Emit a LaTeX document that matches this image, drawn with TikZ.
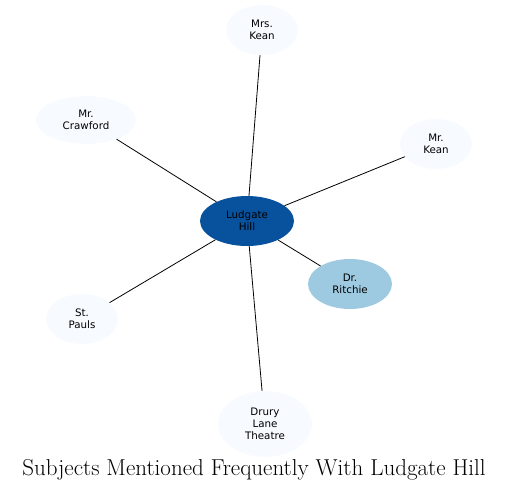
\documentclass[tikz,border=0pt]{standalone}
\usepackage{fontspec}
\usepackage{xcolor}
\usepackage{tikz}
\usetikzlibrary{shapes.geometric, positioning}
\newfontfamily\nodefont{DejaVu Sans}
\definecolor{hubblue}{RGB}{8,81,156}
\definecolor{midblue}{RGB}{158,202,225}
\definecolor{paleblue}{RGB}{247,251,255}
\tikzset{
  subject/.style={ellipse, draw=none, fill=paleblue, inner sep=0pt,
    minimum width=72pt, minimum height=50pt, align=center,
    font=\nodefont\fontsize{10.3}{12}\selectfont},
  hub/.style={subject, fill=hubblue},
  near/.style={subject, fill=midblue},
  link/.style={black, line width=0.8pt}
}

\begin{document}
\begin{tikzpicture}[x=1pt, y=-1pt]
  \useasboundingbox (0,0) rectangle (509,493);
  \node[hub, minimum width=94pt] (ludgate) at (247,221) {Ludgate\\Hill};
  \node[near, minimum width=84pt] (ritchie) at (350,284) {Dr.\\Ritchie};
  \node[subject] (mrskean) at (262,30) {Mrs.\\Kean};
  \node[subject, minimum width=100pt, minimum height=48pt] (crawford) at (86,120) {Mr.\\Crawford};
  \node[subject] (mrkean) at (436,144) {Mr.\\Kean};
  \node[subject] (pauls) at (82,319) {St.\\Pauls};
  \node[subject, minimum width=94pt, minimum height=66pt] (drury) at (265,424) {Drury\\Lane\\Theatre};
  \node[font=\fontsize{23}{26}\selectfont] (title) at (254,470) {Subjects Mentioned Frequently With Ludgate Hill};
  \draw[link] (ludgate) -- (mrskean);
  \draw[link] (ludgate) -- (crawford);
  \draw[link] (ludgate) -- (mrkean);
  \draw[link] (ludgate) -- (ritchie);
  \draw[link] (ludgate) -- (pauls);
  \draw[link] (ludgate) -- (drury);
\end{tikzpicture}
\end{document}
